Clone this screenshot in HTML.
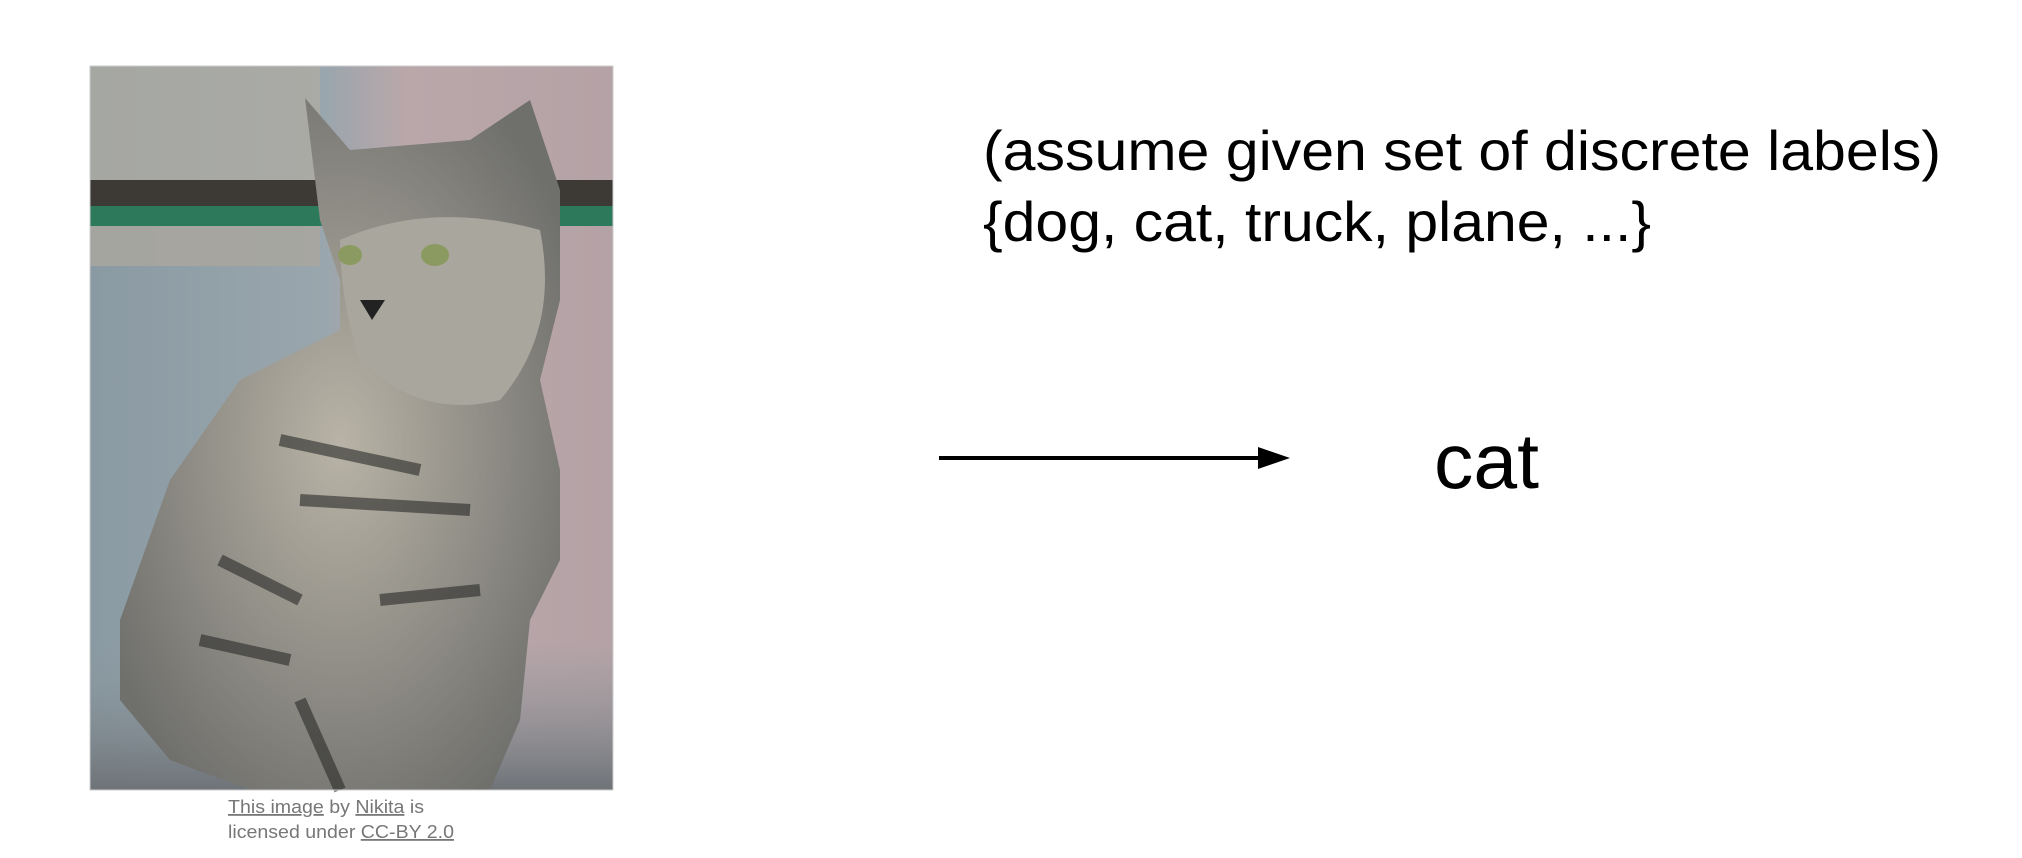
<!DOCTYPE html>
<html><head><meta charset="utf-8"><style>
html,body{margin:0;padding:0;background:#fff;}
body{width:2022px;height:858px;overflow:hidden;position:relative;}
</style></head><body>
<svg width="2022" height="858" viewBox="0 0 2022 858" xmlns="http://www.w3.org/2000/svg" style="position:absolute;left:0;top:0">
<defs>
<linearGradient id="bg" x1="0" y1="0" x2="1" y2="0">
<stop offset="0" stop-color="#8a9aa3"/><stop offset="0.45" stop-color="#9aa6ad"/><stop offset="0.6" stop-color="#b9a7aa"/><stop offset="1" stop-color="#b5a2a6"/>
</linearGradient>
<linearGradient id="fl" x1="0" y1="0" x2="0" y2="1">
<stop offset="0" stop-color="#8f9a9e" stop-opacity="0"/><stop offset="1" stop-color="#6e7378"/>
</linearGradient>
<radialGradient id="catg" cx="0.5" cy="0.5" r="0.6">
<stop offset="0" stop-color="#b8b3a6"/><stop offset="1" stop-color="#6f6f6c"/>
</radialGradient>
</defs>
<rect x="90" y="66" width="523" height="724" fill="url(#bg)"/>
<rect x="90" y="66" width="230" height="200" fill="#b0aca3" opacity="0.7"/>
<rect x="90" y="180" width="523" height="26" fill="#3d3a36"/>
<rect x="90" y="206" width="523" height="20" fill="#2c7a5b"/>
<rect x="90" y="226" width="230" height="40" fill="#a5a49c" opacity="0.6"/>
<rect x="90" y="640" width="523" height="150" fill="url(#fl)"/>
<path d="M305 98 L350 150 L470 140 L530 100 L560 190 L560 300 L540 380 L560 470 L560 560 L530 620 L520 720 L490 790 L250 790 L170 760 L120 700 L120 620 L170 480 L240 380 L340 330 L340 280 L320 220 Z" fill="url(#catg)"/>
<path d="M340 240 Q430 200 540 230 Q560 330 500 400 Q420 420 360 360 Q340 300 340 240 Z" fill="#a9a79d"/>
<ellipse cx="350" cy="255" rx="12" ry="10" fill="#8b9a60"/>
<ellipse cx="435" cy="255" rx="14" ry="11" fill="#8b9a60"/>
<path d="M360 300 L385 300 L372 320 Z" fill="#222"/>
<path d="M220 560 L300 600 M200 640 L290 660 M300 700 L340 790 M380 600 L480 590 M280 440 L420 470 M300 500 L470 510" stroke="#2a2a28" stroke-width="12" fill="none" opacity="0.6"/>
<rect x="90" y="66" width="523" height="724" fill="none" stroke="#ccc" stroke-width="1"/>
<g font-family="Liberation Sans, sans-serif" font-size="18" fill="#777">
<text x="228" y="813" textLength="196" lengthAdjust="spacingAndGlyphs"><tspan text-decoration="underline">This image</tspan> by <tspan text-decoration="underline">Nikita</tspan> is</text>
<text x="228" y="838" textLength="226" lengthAdjust="spacingAndGlyphs">licensed under <tspan text-decoration="underline">CC-BY 2.0</tspan></text>
</g>
<g font-family="Liberation Sans, sans-serif" font-size="56" fill="#000">
<text x="983" y="170" textLength="958" lengthAdjust="spacingAndGlyphs">(assume given set of discrete labels)</text>
<text x="983" y="241" textLength="668" lengthAdjust="spacingAndGlyphs">{dog, cat, truck, plane, ...}</text>
<text x="1434" y="488" font-size="78" textLength="105" lengthAdjust="spacingAndGlyphs">cat</text>
</g>
<line x1="939" y1="458" x2="1262" y2="458" stroke="#000" stroke-width="4"/>
<path d="M1258 447 L1290 458 L1258 469 Z" fill="#000"/>
</svg>
</body></html>
